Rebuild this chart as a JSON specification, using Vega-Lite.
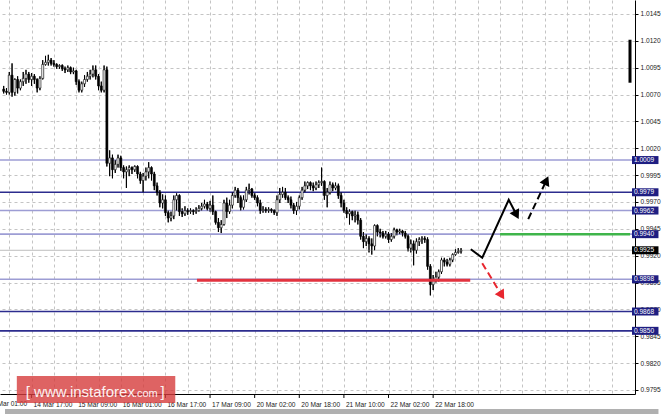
{
"$schema": "https://vega.github.io/schema/vega-lite/v6.json",
"width": 635,
"height": 394,
"autosize": {"type": "none"},
"padding": {"left": 0, "top": 0, "right": 29, "bottom": 20},
"background": "#ffffff",
"config": {
  "view": {"stroke": null},
  "font": "Liberation Sans"
},
"resolve": {"axis": {"x": "independent", "y": "independent"}},
"datasets": {
  "candles": [
{"i":-10,"o":1.0075,"h":1.0078,"l":1.0071,"c":1.0073},
{"i":-9,"o":1.0073,"h":1.0076,"l":1.0070,"c":1.0072},
{"i":-8,"o":1.0072,"h":1.0091,"l":1.0070,"c":1.0088},
{"i":-7,"o":1.0088,"h":1.0099,"l":1.0068,"c":1.0072},
{"i":-6,"o":1.0072,"h":1.0085,"l":1.0069,"c":1.0084},
{"i":-5,"o":1.0084,"h":1.0087,"l":1.0071,"c":1.0076},
{"i":-4,"o":1.0076,"h":1.0084,"l":1.0074,"c":1.0082},
{"i":-3,"o":1.0082,"h":1.0091,"l":1.0078,"c":1.0085},
{"i":-2,"o":1.0085,"h":1.0093,"l":1.0080,"c":1.0089},
{"i":-1,"o":1.0089,"h":1.0091,"l":1.0081,"c":1.0084},
{"i":0,"o":1.0084,"h":1.0090,"l":1.0078,"c":1.0087},
{"i":1,"o":1.0087,"h":1.0089,"l":1.0080,"c":1.0084},
{"i":2,"o":1.0084,"h":1.0085,"l":1.0072,"c":1.0076},
{"i":3,"o":1.0076,"h":1.0087,"l":1.0074,"c":1.0085},
{"i":4,"o":1.0085,"h":1.0102,"l":1.0084,"c":1.0098},
{"i":5,"o":1.0098,"h":1.0106,"l":1.0097,"c":1.0100},
{"i":6,"o":1.0100,"h":1.0107,"l":1.0097,"c":1.0102},
{"i":7,"o":1.0102,"h":1.0104,"l":1.0097,"c":1.0099},
{"i":8,"o":1.0099,"h":1.0102,"l":1.0096,"c":1.0098},
{"i":9,"o":1.0098,"h":1.0099,"l":1.0094,"c":1.0096},
{"i":10,"o":1.0096,"h":1.0098,"l":1.0094,"c":1.0097},
{"i":11,"o":1.0097,"h":1.0098,"l":1.0092,"c":1.0094},
{"i":12,"o":1.0094,"h":1.0096,"l":1.0090,"c":1.0093},
{"i":13,"o":1.0093,"h":1.0097,"l":1.0091,"c":1.0095},
{"i":14,"o":1.0095,"h":1.0096,"l":1.0089,"c":1.0091},
{"i":15,"o":1.0091,"h":1.0095,"l":1.0089,"c":1.0092},
{"i":16,"o":1.0092,"h":1.0093,"l":1.0079,"c":1.0082},
{"i":17,"o":1.0082,"h":1.0084,"l":1.0072,"c":1.0074},
{"i":18,"o":1.0074,"h":1.0082,"l":1.0072,"c":1.0080},
{"i":19,"o":1.0080,"h":1.0088,"l":1.0077,"c":1.0084},
{"i":20,"o":1.0084,"h":1.0091,"l":1.0082,"c":1.0087},
{"i":21,"o":1.0087,"h":1.0093,"l":1.0084,"c":1.0089},
{"i":22,"o":1.0089,"h":1.0097,"l":1.0086,"c":1.0093},
{"i":23,"o":1.0093,"h":1.0097,"l":1.0084,"c":1.0087},
{"i":24,"o":1.0087,"h":1.0089,"l":1.0074,"c":1.0078},
{"i":25,"o":1.0078,"h":1.0082,"l":1.0072,"c":1.0074},
{"i":26,"o":1.0074,"h":1.0097,"l":1.0072,"c":1.0093},
{"i":27,"o":1.0093,"h":1.0096,"l":1.0003,"c":1.0006},
{"i":28,"o":1.0006,"h":1.0018,"l":0.9994,"c":1.0011},
{"i":29,"o":1.0011,"h":1.0014,"l":0.9992,"c":1.0000},
{"i":30,"o":1.0000,"h":1.0009,"l":0.9997,"c":1.0005},
{"i":31,"o":1.0005,"h":1.0014,"l":1.0002,"c":1.0011},
{"i":32,"o":1.0011,"h":1.0013,"l":0.9999,"c":1.0002},
{"i":33,"o":1.0002,"h":1.0004,"l":0.9992,"c":0.9998},
{"i":34,"o":0.9998,"h":1.0003,"l":0.9983,"c":1.0000},
{"i":35,"o":1.0000,"h":1.0004,"l":0.9994,"c":1.0002},
{"i":36,"o":1.0002,"h":1.0003,"l":0.9996,"c":1.0000},
{"i":37,"o":1.0000,"h":1.0004,"l":0.9998,"c":1.0003},
{"i":38,"o":1.0003,"h":1.0004,"l":0.9992,"c":0.9996},
{"i":39,"o":0.9996,"h":0.9998,"l":0.9987,"c":0.9990},
{"i":40,"o":0.9990,"h":0.9997,"l":0.9979,"c":0.9994},
{"i":41,"o":0.9994,"h":1.0002,"l":0.9990,"c":0.9998},
{"i":42,"o":0.9998,"h":1.0007,"l":0.9992,"c":1.0002},
{"i":43,"o":1.0002,"h":1.0003,"l":0.9990,"c":0.9996},
{"i":44,"o":0.9996,"h":0.9998,"l":0.9981,"c":0.9985},
{"i":45,"o":0.9985,"h":0.9988,"l":0.9976,"c":0.9979},
{"i":46,"o":0.9979,"h":0.9981,"l":0.9965,"c":0.9969},
{"i":47,"o":0.9969,"h":0.9977,"l":0.9964,"c":0.9972},
{"i":48,"o":0.9972,"h":0.9976,"l":0.9957,"c":0.9960},
{"i":49,"o":0.9960,"h":0.9962,"l":0.9951,"c":0.9955},
{"i":50,"o":0.9955,"h":0.9961,"l":0.9952,"c":0.9957},
{"i":51,"o":0.9957,"h":0.9976,"l":0.9954,"c":0.9972},
{"i":52,"o":0.9972,"h":0.9978,"l":0.9962,"c":0.9976},
{"i":53,"o":0.9976,"h":0.9977,"l":0.9957,"c":0.9961},
{"i":54,"o":0.9961,"h":0.9964,"l":0.9956,"c":0.9959},
{"i":55,"o":0.9959,"h":0.9966,"l":0.9957,"c":0.9962},
{"i":56,"o":0.9962,"h":0.9964,"l":0.9958,"c":0.9961},
{"i":57,"o":0.9961,"h":0.9964,"l":0.9959,"c":0.9962},
{"i":58,"o":0.9962,"h":0.9963,"l":0.9958,"c":0.9961},
{"i":59,"o":0.9961,"h":0.9965,"l":0.9959,"c":0.9962},
{"i":60,"o":0.9962,"h":0.9967,"l":0.9961,"c":0.9964},
{"i":61,"o":0.9964,"h":0.9969,"l":0.9962,"c":0.9966},
{"i":62,"o":0.9966,"h":0.9972,"l":0.9964,"c":0.9968},
{"i":63,"o":0.9968,"h":0.9970,"l":0.9962,"c":0.9964},
{"i":64,"o":0.9964,"h":0.9971,"l":0.9961,"c":0.9967},
{"i":65,"o":0.9967,"h":0.9976,"l":0.9958,"c":0.9961},
{"i":66,"o":0.9961,"h":0.9962,"l":0.9949,"c":0.9951},
{"i":67,"o":0.9951,"h":0.9955,"l":0.9942,"c":0.9946},
{"i":68,"o":0.9946,"h":0.9953,"l":0.9941,"c":0.9949},
{"i":69,"o":0.9949,"h":0.9972,"l":0.9948,"c":0.9969},
{"i":70,"o":0.9969,"h":0.9974,"l":0.9955,"c":0.9961},
{"i":71,"o":0.9961,"h":0.9972,"l":0.9959,"c":0.9967},
{"i":72,"o":0.9967,"h":0.9979,"l":0.9964,"c":0.9976},
{"i":73,"o":0.9976,"h":0.9984,"l":0.9974,"c":0.9981},
{"i":74,"o":0.9981,"h":0.9983,"l":0.9969,"c":0.9974},
{"i":75,"o":0.9974,"h":0.9976,"l":0.9962,"c":0.9965},
{"i":76,"o":0.9965,"h":0.9976,"l":0.9963,"c":0.9972},
{"i":77,"o":0.9972,"h":0.9984,"l":0.9970,"c":0.9981},
{"i":78,"o":0.9981,"h":0.9987,"l":0.9977,"c":0.9982},
{"i":79,"o":0.9982,"h":0.9983,"l":0.9974,"c":0.9976},
{"i":80,"o":0.9976,"h":0.9978,"l":0.9972,"c":0.9974},
{"i":81,"o":0.9974,"h":0.9976,"l":0.9966,"c":0.9969},
{"i":82,"o":0.9969,"h":0.9972,"l":0.9959,"c":0.9962},
{"i":83,"o":0.9962,"h":0.9966,"l":0.9960,"c":0.9963},
{"i":84,"o":0.9963,"h":0.9965,"l":0.9960,"c":0.9962},
{"i":85,"o":0.9962,"h":0.9965,"l":0.9960,"c":0.9963},
{"i":86,"o":0.9963,"h":0.9964,"l":0.9960,"c":0.9962},
{"i":87,"o":0.9962,"h":0.9963,"l":0.9958,"c":0.9960},
{"i":88,"o":0.9960,"h":0.9976,"l":0.9957,"c":0.9972},
{"i":89,"o":0.9972,"h":0.9983,"l":0.9969,"c":0.9977},
{"i":90,"o":0.9977,"h":0.9984,"l":0.9974,"c":0.9979},
{"i":91,"o":0.9979,"h":0.9983,"l":0.9972,"c":0.9974},
{"i":92,"o":0.9974,"h":0.9976,"l":0.9969,"c":0.9972},
{"i":93,"o":0.9972,"h":0.9975,"l":0.9964,"c":0.9967},
{"i":94,"o":0.9967,"h":0.9969,"l":0.9959,"c":0.9962},
{"i":95,"o":0.9962,"h":0.9970,"l":0.9958,"c":0.9966},
{"i":96,"o":0.9966,"h":0.9976,"l":0.9963,"c":0.9974},
{"i":97,"o":0.9974,"h":0.9984,"l":0.9972,"c":0.9981},
{"i":98,"o":0.9981,"h":0.9989,"l":0.9979,"c":0.9985},
{"i":99,"o":0.9985,"h":0.9989,"l":0.9982,"c":0.9988},
{"i":100,"o":0.9988,"h":0.9989,"l":0.9981,"c":0.9985},
{"i":101,"o":0.9985,"h":0.9988,"l":0.9980,"c":0.9983},
{"i":102,"o":0.9983,"h":0.9989,"l":0.9981,"c":0.9986},
{"i":103,"o":0.9986,"h":0.9990,"l":0.9983,"c":0.9988},
{"i":104,"o":0.9988,"h":1.0002,"l":0.9985,"c":0.9989},
{"i":105,"o":0.9989,"h":0.9990,"l":0.9972,"c":0.9976},
{"i":106,"o":0.9976,"h":0.9983,"l":0.9965,"c":0.9979},
{"i":107,"o":0.9979,"h":0.9989,"l":0.9977,"c":0.9986},
{"i":108,"o":0.9986,"h":0.9988,"l":0.9980,"c":0.9983},
{"i":109,"o":0.9983,"h":0.9988,"l":0.9981,"c":0.9985},
{"i":110,"o":0.9985,"h":0.9987,"l":0.9973,"c":0.9976},
{"i":111,"o":0.9976,"h":0.9979,"l":0.9965,"c":0.9969},
{"i":112,"o":0.9969,"h":0.9972,"l":0.9960,"c":0.9962},
{"i":113,"o":0.9962,"h":0.9965,"l":0.9955,"c":0.9959},
{"i":114,"o":0.9959,"h":0.9963,"l":0.9949,"c":0.9961},
{"i":115,"o":0.9961,"h":0.9962,"l":0.9953,"c":0.9957},
{"i":116,"o":0.9957,"h":0.9962,"l":0.9951,"c":0.9958},
{"i":117,"o":0.9958,"h":0.9961,"l":0.9949,"c":0.9953},
{"i":118,"o":0.9953,"h":0.9955,"l":0.9935,"c":0.9938},
{"i":119,"o":0.9938,"h":0.9942,"l":0.9927,"c":0.9933},
{"i":120,"o":0.9933,"h":0.9940,"l":0.9929,"c":0.9936},
{"i":121,"o":0.9936,"h":0.9938,"l":0.9923,"c":0.9931},
{"i":122,"o":0.9931,"h":0.9936,"l":0.9921,"c":0.9929},
{"i":123,"o":0.9929,"h":0.9949,"l":0.9925,"c":0.9948},
{"i":124,"o":0.9948,"h":0.9949,"l":0.9938,"c":0.9942},
{"i":125,"o":0.9942,"h":0.9945,"l":0.9937,"c":0.9941},
{"i":126,"o":0.9941,"h":0.9943,"l":0.9936,"c":0.9938},
{"i":127,"o":0.9938,"h":0.9943,"l":0.9936,"c":0.9940},
{"i":128,"o":0.9940,"h":0.9942,"l":0.9932,"c":0.9935},
{"i":129,"o":0.9935,"h":0.9941,"l":0.9933,"c":0.9938},
{"i":130,"o":0.9938,"h":0.9946,"l":0.9936,"c":0.9944},
{"i":131,"o":0.9944,"h":0.9945,"l":0.9939,"c":0.9942},
{"i":132,"o":0.9942,"h":0.9945,"l":0.9940,"c":0.9943},
{"i":133,"o":0.9943,"h":0.9944,"l":0.9938,"c":0.9941},
{"i":134,"o":0.9941,"h":0.9943,"l":0.9936,"c":0.9938},
{"i":135,"o":0.9938,"h":0.9940,"l":0.9924,"c":0.9927},
{"i":136,"o":0.9927,"h":0.9935,"l":0.9923,"c":0.9931},
{"i":137,"o":0.9931,"h":0.9934,"l":0.9911,"c":0.9925},
{"i":138,"o":0.9925,"h":0.9936,"l":0.9922,"c":0.9933},
{"i":139,"o":0.9933,"h":0.9937,"l":0.9929,"c":0.9935},
{"i":140,"o":0.9935,"h":0.9938,"l":0.9931,"c":0.9936},
{"i":141,"o":0.9936,"h":0.9938,"l":0.9932,"c":0.9935},
{"i":142,"o":0.9935,"h":0.9937,"l":0.9907,"c":0.9910},
{"i":143,"o":0.9910,"h":0.9912,"l":0.9883,"c":0.9893},
{"i":144,"o":0.9893,"h":0.9902,"l":0.9888,"c":0.9897},
{"i":145,"o":0.9897,"h":0.9905,"l":0.9895,"c":0.9900},
{"i":146,"o":0.9900,"h":0.9907,"l":0.9896,"c":0.9905},
{"i":147,"o":0.9905,"h":0.9918,"l":0.9903,"c":0.9916},
{"i":148,"o":0.9916,"h":0.9918,"l":0.9910,"c":0.9914},
{"i":149,"o":0.9914,"h":0.9917,"l":0.9910,"c":0.9912},
{"i":150,"o":0.9912,"h":0.9918,"l":0.9910,"c":0.9916},
{"i":151,"o":0.9916,"h":0.9922,"l":0.9914,"c":0.9921},
{"i":152,"o":0.9921,"h":0.9926,"l":0.9920,"c":0.9923},
{"i":153,"o":0.9923,"h":0.9927,"l":0.9922,"c":0.9924},
{"i":154,"o":0.9924,"h":0.9927,"l":0.9922,"c":0.9925}
  ],
  "levels": [
    {"v": 1.0009, "lab": "1.0009", "kind": "minor"},
    {"v": 0.9979, "lab": "0.9979", "kind": "major"},
    {"v": 0.9962, "lab": "0.9962", "kind": "minor"},
    {"v": 0.9940, "lab": "0.9940", "kind": "minor"},
    {"v": 0.9898, "lab": "0.9898", "kind": "minor"},
    {"v": 0.9868, "lab": "0.9868", "kind": "major"},
    {"v": 0.9850, "lab": "0.9850", "kind": "major"}
  ],
  "bid": [{"v": 0.9925, "lab": "0.9925"}],
  "red": [{"x": 59.3, "x2": 157.3, "v": 0.9897}],
  "green": [{"x": 168.0, "x2": 214.59, "v": 0.9940}],
  "marker": [{"x": 214.59, "lo": 1.0081, "hi": 1.0121}],
  "xticks": [{"i": 0}, {"i": 16}, {"i": 32}, {"i": 48}, {"i": 64}, {"i": 80}, {"i": 96}, {"i": 112}, {"i": 128}, {"i": 144}],
  "arrows": [
    {"id": "up", "k": 0, "x": 157.5, "p": 0.9926},
    {"id": "up", "k": 1, "x": 161.6, "p": 0.9918},
    {"id": "up", "k": 2, "x": 171.1, "p": 0.9972},
    {"id": "up", "k": 3, "x": 173.9, "p": 0.9958},
    {"id": "dash", "k": 0, "x": 178.1, "p": 0.9954},
    {"id": "dash", "k": 1, "x": 184.6, "p": 0.9990},
    {"id": "down", "k": 0, "x": 161.6, "p": 0.9913},
    {"id": "down", "k": 1, "x": 168.6, "p": 0.9883}
  ]
},
"layer": [
  {
    "data": {"name": "candles"},
    "mark": {"type": "rule", "color": "#000000", "strokeWidth": 1, "clip": true},
    "encoding": {
      "x": {
        "field": "i", "type": "quantitative", "title": null,
        "scale": {"domain": [-9.53, 214.59], "nice": false, "zero": false},
        "axis": {
          "orient": "bottom",
          "values": [-8,0,8,16,24,32,40,48,56,64,72,80,88,96,104,112,120,128,136,144,152,160,168,176,184,192,200,208],
          "labelExpr": "datum.value === 0 ? '14 Mar 17:00' : datum.value === 16 ? '15 Mar 09:00' : datum.value === 32 ? '16 Mar 01:00' : datum.value === 48 ? '16 Mar 17:00' : datum.value === 64 ? '17 Mar 09:00' : datum.value === 80 ? '20 Mar 02:00' : datum.value === 96 ? '20 Mar 18:00' : datum.value === 112 ? '21 Mar 10:00' : datum.value === 128 ? '22 Mar 02:00' : datum.value === 144 ? '22 Mar 18:00' : ''",
          "grid": true, "gridColor": "#c4c4c4", "gridDash": [3, 3], "gridWidth": 1,
          "domain": true, "domainColor": "#000000", "domainWidth": 1,
          "ticks": false,
          "labelAlign": "left", "labelOffset": 1.5, "labelBaseline": "top",
          "labelFont": "Liberation Sans", "labelFontSize": 6.6, "labelColor": "#222222",
          "labelPadding": 7, "labelOverlap": false, "labelFlush": false, "labelBound": false
        }
      },
      "y": {
        "field": "l", "type": "quantitative", "title": null,
        "scale": {"domain": [0.97912, 1.0158], "nice": false, "zero": false},
        "axis": {
          "orient": "right",
          "values": [0.9795,0.982,0.9845,0.987,0.9895,0.992,0.9945,0.997,0.9995,1.002,1.0045,1.007,1.0095,1.012,1.0145],
          "format": ".4f",
          "grid": true, "gridColor": "#c4c4c4", "gridDash": [3, 3], "gridWidth": 1,
          "domain": true, "domainColor": "#000000", "domainWidth": 1,
          "ticks": true, "tickSize": 3, "tickColor": "#000000",
          "labelFont": "Liberation Sans", "labelFontSize": 6.6, "labelColor": "#222222",
          "labelPadding": 2, "labelOverlap": false, "labelFlush": false, "labelBound": false
        }
      },
      "y2": {"field": "h"}
    }
  },
  {
    "data": {"name": "xticks"},
    "mark": {"type": "rule", "color": "#000000", "strokeWidth": 1},
    "encoding": {
      "x": {"field": "i", "type": "quantitative", "axis": null},
      "y": {"datum": 0.97912, "type": "quantitative", "axis": null},
      "y2": {"datum": 0.97875}
    }
  },
  {
    "data": {"name": "bid"},
    "mark": {"type": "rule", "color": "#bdbdbd", "strokeWidth": 1},
    "encoding": {"y": {"field": "v", "type": "quantitative", "axis": null}}
  },
  {
    "data": {"name": "levels"},
    "mark": {"type": "rule", "strokeWidth": 1.6},
    "encoding": {
      "y": {"field": "v", "type": "quantitative", "axis": null},
      "color": {"condition": {"test": "datum.kind === 'major'", "value": "#2c2c8e"}, "value": "#9d9dd4"}
    }
  },
  {
    "data": {"name": "candles"},
    "mark": {"type": "rule", "color": "#000000", "strokeWidth": 1, "clip": true},
    "encoding": {
      "x": {"field": "i", "type": "quantitative", "axis": null},
      "y": {"field": "l", "type": "quantitative", "axis": null},
      "y2": {"field": "h"}
    }
  },
  {
    "data": {"name": "candles"},
    "mark": {"type": "bar", "size": 2, "stroke": "#000000", "strokeWidth": 0.6, "clip": true},
    "encoding": {
      "x": {"field": "i", "type": "quantitative", "axis": null},
      "y": {"field": "o", "type": "quantitative", "axis": null},
      "y2": {"field": "c"},
      "fill": {"condition": {"test": "datum.c > datum.o", "value": "#ffffff"}, "value": "#000000"}
    }
  },
  {
    "data": {"name": "red"},
    "mark": {"type": "rule", "color": "#e2333f", "strokeWidth": 3},
    "encoding": {
      "x": {"field": "x", "type": "quantitative", "axis": null},
      "x2": {"field": "x2"},
      "y": {"field": "v", "type": "quantitative", "axis": null}
    }
  },
  {
    "data": {"name": "green"},
    "mark": {"type": "rule", "color": "#3fb54a", "strokeWidth": 2.5},
    "encoding": {
      "x": {"field": "x", "type": "quantitative", "axis": null},
      "x2": {"field": "x2"},
      "y": {"field": "v", "type": "quantitative", "axis": null}
    }
  },
  {
    "data": {"name": "arrows"},
    "transform": [{"filter": "datum.id === 'up'"}],
    "mark": {"type": "line", "color": "#000000", "strokeWidth": 2},
    "encoding": {
      "x": {"field": "x", "type": "quantitative", "axis": null},
      "y": {"field": "p", "type": "quantitative", "axis": null},
      "order": {"field": "k"}
    }
  },
  {
    "data": {"name": "arrows"},
    "transform": [{"filter": "datum.id === 'dash'"}],
    "mark": {"type": "line", "color": "#000000", "strokeWidth": 2, "strokeDash": [7, 4]},
    "encoding": {
      "x": {"field": "x", "type": "quantitative", "axis": null},
      "y": {"field": "p", "type": "quantitative", "axis": null},
      "order": {"field": "k"}
    }
  },
  {
    "data": {"name": "arrows"},
    "transform": [{"filter": "datum.id === 'down'"}],
    "mark": {"type": "line", "color": "#e8262f", "strokeWidth": 2, "strokeDash": [7, 4]},
    "encoding": {
      "x": {"field": "x", "type": "quantitative", "axis": null},
      "y": {"field": "p", "type": "quantitative", "axis": null},
      "order": {"field": "k"}
    }
  },
  {
    "data": {"name": "arrows"},
    "transform": [{"filter": "datum.id === 'up' && datum.k === 3"}],
    "mark": {"type": "point", "shape": "triangle-up", "filled": true, "color": "#000000", "opacity": 1, "size": 115, "angle": 152},
    "encoding": {
      "x": {"field": "x", "type": "quantitative", "axis": null},
      "y": {"field": "p", "type": "quantitative", "axis": null}
    }
  },
  {
    "data": {"name": "arrows"},
    "transform": [{"filter": "datum.id === 'dash' && datum.k === 1"}],
    "mark": {"type": "point", "shape": "triangle-up", "filled": true, "color": "#000000", "opacity": 1, "size": 115, "angle": 25},
    "encoding": {
      "x": {"field": "x", "type": "quantitative", "axis": null},
      "y": {"field": "p", "type": "quantitative", "axis": null}
    }
  },
  {
    "data": {"name": "arrows"},
    "transform": [{"filter": "datum.id === 'down' && datum.k === 1"}],
    "mark": {"type": "point", "shape": "triangle-up", "filled": true, "color": "#e8262f", "opacity": 1, "size": 115, "angle": 148},
    "encoding": {
      "x": {"field": "x", "type": "quantitative", "axis": null},
      "y": {"field": "p", "type": "quantitative", "axis": null}
    }
  },
  {
    "data": {"name": "marker"},
    "mark": {"type": "rule", "color": "#000000", "strokeWidth": 3},
    "encoding": {
      "x": {"field": "x", "type": "quantitative", "axis": null},
      "y": {"field": "lo", "type": "quantitative", "axis": null},
      "y2": {"field": "hi"}
    }
  },
  {
    "data": {"name": "levels"},
    "mark": {"type": "rule", "color": "#1e1e82", "strokeWidth": 8, "strokeCap": "butt"},
    "encoding": {
      "x": {"datum": 215.3, "type": "quantitative", "axis": null},
      "x2": {"datum": 224.8},
      "y": {"field": "v", "type": "quantitative", "axis": null}
    }
  },
  {
    "data": {"name": "bid"},
    "mark": {"type": "rule", "color": "#000000", "strokeWidth": 8, "strokeCap": "butt"},
    "encoding": {
      "x": {"datum": 215.3, "type": "quantitative", "axis": null},
      "x2": {"datum": 224.8},
      "y": {"field": "v", "type": "quantitative", "axis": null}
    }
  },
  {
    "data": {"name": "levels"},
    "mark": {"type": "text", "color": "#ffffff", "font": "Liberation Sans", "fontSize": 6.6, "align": "left", "baseline": "middle"},
    "encoding": {
      "x": {"datum": 216.0, "type": "quantitative", "axis": null},
      "y": {"field": "v", "type": "quantitative", "axis": null},
      "text": {"field": "lab"}
    }
  },
  {
    "data": {"name": "bid"},
    "mark": {"type": "text", "color": "#ffffff", "font": "Liberation Sans", "fontSize": 6.6, "align": "left", "baseline": "middle"},
    "encoding": {
      "x": {"datum": 216.0, "type": "quantitative", "axis": null},
      "y": {"field": "v", "type": "quantitative", "axis": null},
      "text": {"field": "lab"}
    }
  },
  {
    "data": {"values": [{"t": "14 Mar 01:00"}]},
    "mark": {"type": "text", "color": "#222222", "font": "Liberation Sans", "fontSize": 6.6, "align": "left", "baseline": "top"},
    "encoding": {
      "x": {"datum": -15.5, "type": "quantitative", "axis": null},
      "y": {"datum": 0.97847, "type": "quantitative", "axis": null},
      "text": {"field": "t"}
    }
  },
  {
    "data": {"values": [{"a": 0}]},
    "mark": {"type": "rect", "color": "#b0b0b0"},
    "encoding": {
      "x": {"datum": -9.53, "type": "quantitative", "axis": null},
      "x2": {"datum": 224.8},
      "y": {"datum": 0.97772, "type": "quantitative", "axis": null},
      "y2": {"datum": 0.9770}
    }
  },
  {
    "data": {"values": [{"a": 0}]},
    "mark": {"type": "rect", "color": "#d63c3c", "opacity": 0.8},
    "encoding": {
      "x": {"datum": -5.29, "type": "quantitative", "axis": null},
      "x2": {"datum": 51.53},
      "y": {"datum": 0.9808, "type": "quantitative", "axis": null},
      "y2": {"datum": 0.97828}
    }
  },
  {
    "data": {"values": [{"t": "[  www.instaforex"}]},
    "mark": {"type": "text", "color": "#ffffff", "opacity": 0.92, "font": "Liberation Sans", "fontSize": 15, "align": "left", "baseline": "alphabetic"},
    "encoding": {
      "x": {"datum": -2.1, "type": "quantitative", "axis": null},
      "y": {"datum": 0.97884, "type": "quantitative", "axis": null},
      "text": {"field": "t"}
    }
  },
  {
    "data": {"values": [{"t": ".com"}]},
    "mark": {"type": "text", "color": "#ffffff", "opacity": 0.92, "font": "Liberation Sans", "fontSize": 11, "align": "left", "baseline": "alphabetic"},
    "encoding": {
      "x": {"datum": 36.7, "type": "quantitative", "axis": null},
      "y": {"datum": 0.97884, "type": "quantitative", "axis": null},
      "text": {"field": "t"}
    }
  },
  {
    "data": {"values": [{"t": "]"}]},
    "mark": {"type": "text", "color": "#ffffff", "opacity": 0.92, "font": "Liberation Sans", "fontSize": 15, "align": "left", "baseline": "alphabetic"},
    "encoding": {
      "x": {"datum": 46.2, "type": "quantitative", "axis": null},
      "y": {"datum": 0.97884, "type": "quantitative", "axis": null},
      "text": {"field": "t"}
    }
  }
]
}
